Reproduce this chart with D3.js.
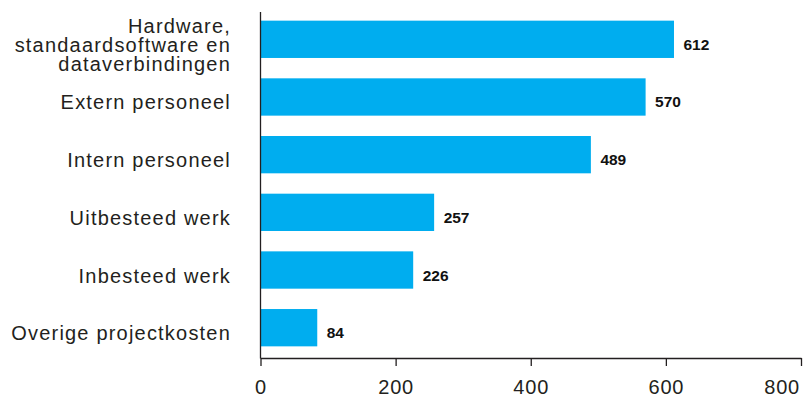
<!DOCTYPE html>
<html><head><meta charset="utf-8">
<script src="https://cdn.jsdelivr.net/npm/d3@7"></script>
<style>
html,body{margin:0;padding:0;background:#fff;}
svg{display:block;}
</style></head>
<body>
<script>
const categories = [
  ["Hardware,", "standaardsoftware en", "dataverbindingen"],
  ["Extern personeel"],
  ["Intern personeel"],
  ["Uitbesteed werk"],
  ["Inbesteed werk"],
  ["Overige projectkosten"]
];
const values = [612, 570, 489, 257, 226, 84];
const xTicks = [0, 200, 400, 600, 800];

const W = 805, H = 399;
const svg = d3.select("body").append("svg").attr("width", W).attr("height", H);

const x = d3.scaleLinear().domain([0, 800]).range([260.5, 801]);
const y = d3.scaleBand().domain(d3.range(values.length)).range([10.5, 356.5]).paddingInner(0.353).paddingOuter(0.176);

const font = "'Liberation Sans', Arial, sans-serif";
const ink = "#231f20";

// bars
svg.selectAll("rect.bar").data(values).join("rect")
  .attr("class", "bar")
  .attr("x", x(0))
  .attr("y", (d, i) => y(i))
  .attr("width", d => x(d) - x(0))
  .attr("height", y.bandwidth())
  .attr("fill", "#00adef");

// value labels
svg.selectAll("text.val").data(values).join("text")
  .attr("class", "val")
  .attr("x", d => x(d) + 9.5)
  .attr("y", (d, i) => y(i) + y.bandwidth() / 2 + 10.5)
  .attr("font-family", font)
  .attr("font-weight", "bold")
  .attr("font-size", "15.5px")
  .attr("fill", "#111")
  .text(d => d);

// category labels
const cat = svg.selectAll("text.cat").data(categories).join("text")
  .attr("class", "cat")
  .attr("text-anchor", "end")
  .attr("font-family", font)
  .attr("font-size", "20px")
  .attr("letter-spacing", "1.2px")
  .attr("fill", ink);
cat.each(function(lines, i) {
  const cy = y(i) + y.bandwidth() / 2 + 12.5;
  const lh = 18.7;
  const start = cy - (lines.length - 1) / 2 * lh;
  d3.select(this).selectAll("tspan").data(lines).join("tspan")
    .attr("x", 231)
    .attr("y", (d, j) => start + j * lh)
    .text(d => d);
});

// y axis line
svg.append("line")
  .attr("x1", x(0)).attr("x2", x(0))
  .attr("y1", 12).attr("y2", 358.5)
  .attr("stroke", ink).attr("stroke-width", 1.3);

// x axis
const xAxis = d3.axisBottom(x).tickValues(xTicks).tickSize(8).tickPadding(14).tickSizeOuter(0);
const gx = svg.append("g").attr("transform", "translate(0,358)").call(xAxis);
gx.select(".domain").attr("stroke", ink).attr("stroke-width", 1.3);
gx.selectAll(".tick line").attr("stroke", ink).attr("stroke-width", 1.3);
gx.selectAll(".tick text")
  .attr("font-family", font)
  .attr("font-size", "20px")
  .attr("letter-spacing", "0.8px")
  .attr("fill", ink);
// last tick label kept inside the picture, right-aligned as in the reference
gx.selectAll(".tick text").filter(d => d === xTicks[xTicks.length - 1])
  .attr("text-anchor", "end")
  .attr("dx", -1.5);
</script>
</body></html>
